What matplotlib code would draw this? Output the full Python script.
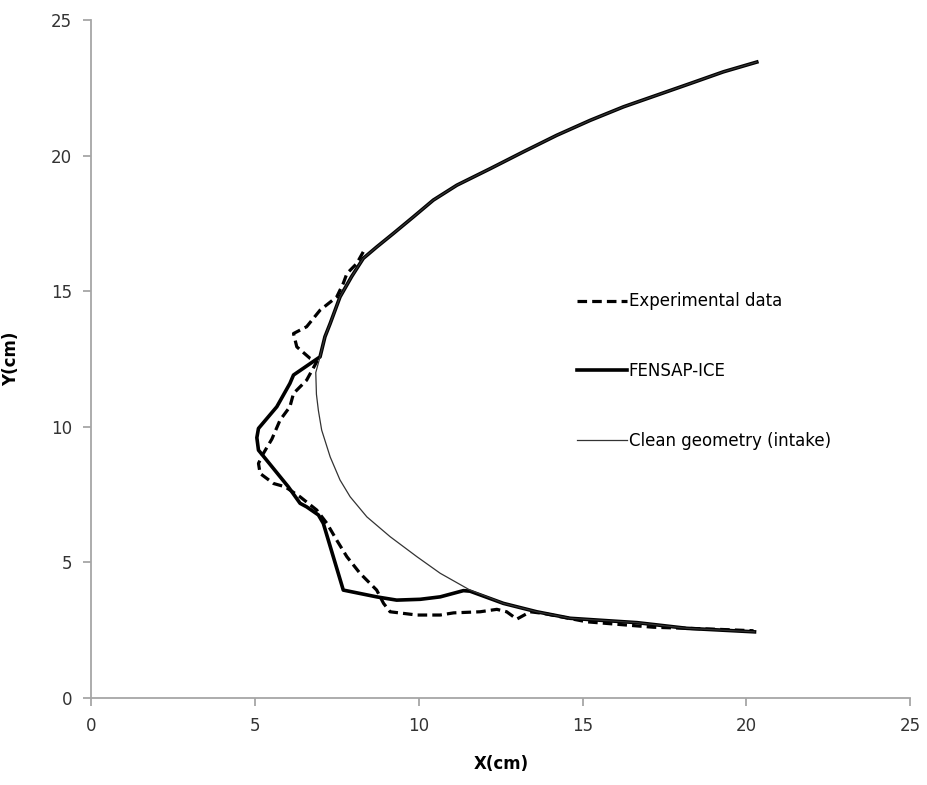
import matplotlib.pyplot as plt

# Experimental ice shape (dashed)
expX = [8.30, 8.10, 7.80, 7.69, 7.49, 6.98, 6.57, 6.17, 6.27, 6.68, 6.88, 6.57, 6.17, 6.06,
        5.76, 5.51, 5.25, 5.10, 5.15, 5.56, 5.91, 6.37, 6.88, 7.19, 7.49, 7.80, 8.20, 8.71,
        8.92, 9.12, 9.94, 10.65, 11.06, 11.87, 12.38, 12.68, 12.99, 13.40, 13.80, 15.13,
        17.16, 19.20, 20.22]
expY = [16.45, 16.02, 15.65, 15.29, 14.79, 14.30, 13.69, 13.44, 12.95, 12.52, 12.40, 11.72,
        11.23, 10.74, 10.25, 9.55, 9.02, 8.65, 8.28, 7.91, 7.79, 7.42, 6.93, 6.44, 5.82,
        5.21, 4.60, 3.98, 3.49, 3.18, 3.06, 3.06, 3.14, 3.18, 3.27, 3.18, 2.91, 3.18, 3.12,
        2.81, 2.61, 2.53, 2.48]

# upper surface, shared by FENSAP-ICE and the clean geometry
upX = [20.32, 19.30, 18.29, 17.27, 16.25, 15.23, 14.21, 13.19, 12.18, 11.16, 10.44, 9.83,
       9.22, 8.71, 8.30, 7.95, 7.59, 7.29, 7.13, 6.98]
upY = [23.45, 23.09, 22.66, 22.23, 21.80, 21.30, 20.75, 20.14, 19.52, 18.91, 18.36, 17.74,
       17.13, 16.63, 16.21, 15.55, 14.79, 13.81, 13.32, 12.58]

# FENSAP-ICE prediction (solid), leading edge + lower surface
fenX = upX + [6.17, 6.06, 5.66, 5.10, 5.05, 5.10, 5.35, 5.76, 6.01, 6.37, 6.57, 6.93,
              7.08, 7.69, 8.71, 9.32, 10.04, 10.65, 11.36, 11.56, 12.58, 13.60, 14.62, 16.66,
              18.18, 20.25]
fenY = upY + [11.91, 11.60, 10.74, 9.94, 9.60, 9.14, 8.77, 8.16, 7.79, 7.18, 7.05, 6.75,
              6.44, 3.98, 3.73, 3.61, 3.64, 3.73, 3.96, 3.94, 3.49, 3.18, 2.94, 2.78,
              2.57, 2.44]

# Clean intake geometry (thin)
cleanX = upX + [6.85, 6.87, 6.93, 7.03, 7.29, 7.59, 7.90, 8.41, 9.12, 9.94, 10.65,
                11.56, 12.58, 13.60, 14.62, 16.66, 18.18, 20.25]
cleanY = upY + [12.00, 11.20, 10.60, 9.88, 8.89, 8.04, 7.42, 6.68, 5.95, 5.21,
                4.60, 3.98, 3.49, 3.18, 2.94, 2.78, 2.57, 2.44]

fig = plt.figure(figsize=(9.27, 7.85), dpi=100)
ax = fig.add_axes([0.0987, 0.1108, 0.883, 0.8637])

ax.plot(expX, expY, color='black', linestyle=(0, (3, 1.6)), linewidth=2.3, label='Experimental data')
ax.plot(fenX, fenY, color='black', linewidth=2.6, label='FENSAP-ICE')
ax.plot(cleanX, cleanY, color='#333333', linewidth=0.9, label='Clean geometry (intake)')

ax.set_xlim(0, 25)
ax.set_ylim(0, 25)
ax.set_xticks([0, 5, 10, 15, 20, 25])
ax.set_yticks([0, 5, 10, 15, 20, 25])

for s in ['top', 'right']:
    ax.spines[s].set_visible(False)
for s in ['left', 'bottom']:
    ax.spines[s].set_color('#a6a6a6')
    ax.spines[s].set_linewidth(1.3)
ax.tick_params(color='#a6a6a6', width=1.3, length=6, labelsize=12, labelcolor='#333333', pad=8)

ax.set_xlabel('X(cm)', fontsize=12, fontweight='bold', labelpad=14)
ax.set_ylabel('Y(cm)', fontsize=12, fontweight='bold', labelpad=22)

ax.legend(loc='upper left', bbox_to_anchor=(0.585, 0.608), frameon=False, fontsize=12,
          handlelength=3.0, handletextpad=0.1, labelspacing=3.1, borderaxespad=0)

fig.savefig('out.png', dpi=100)
